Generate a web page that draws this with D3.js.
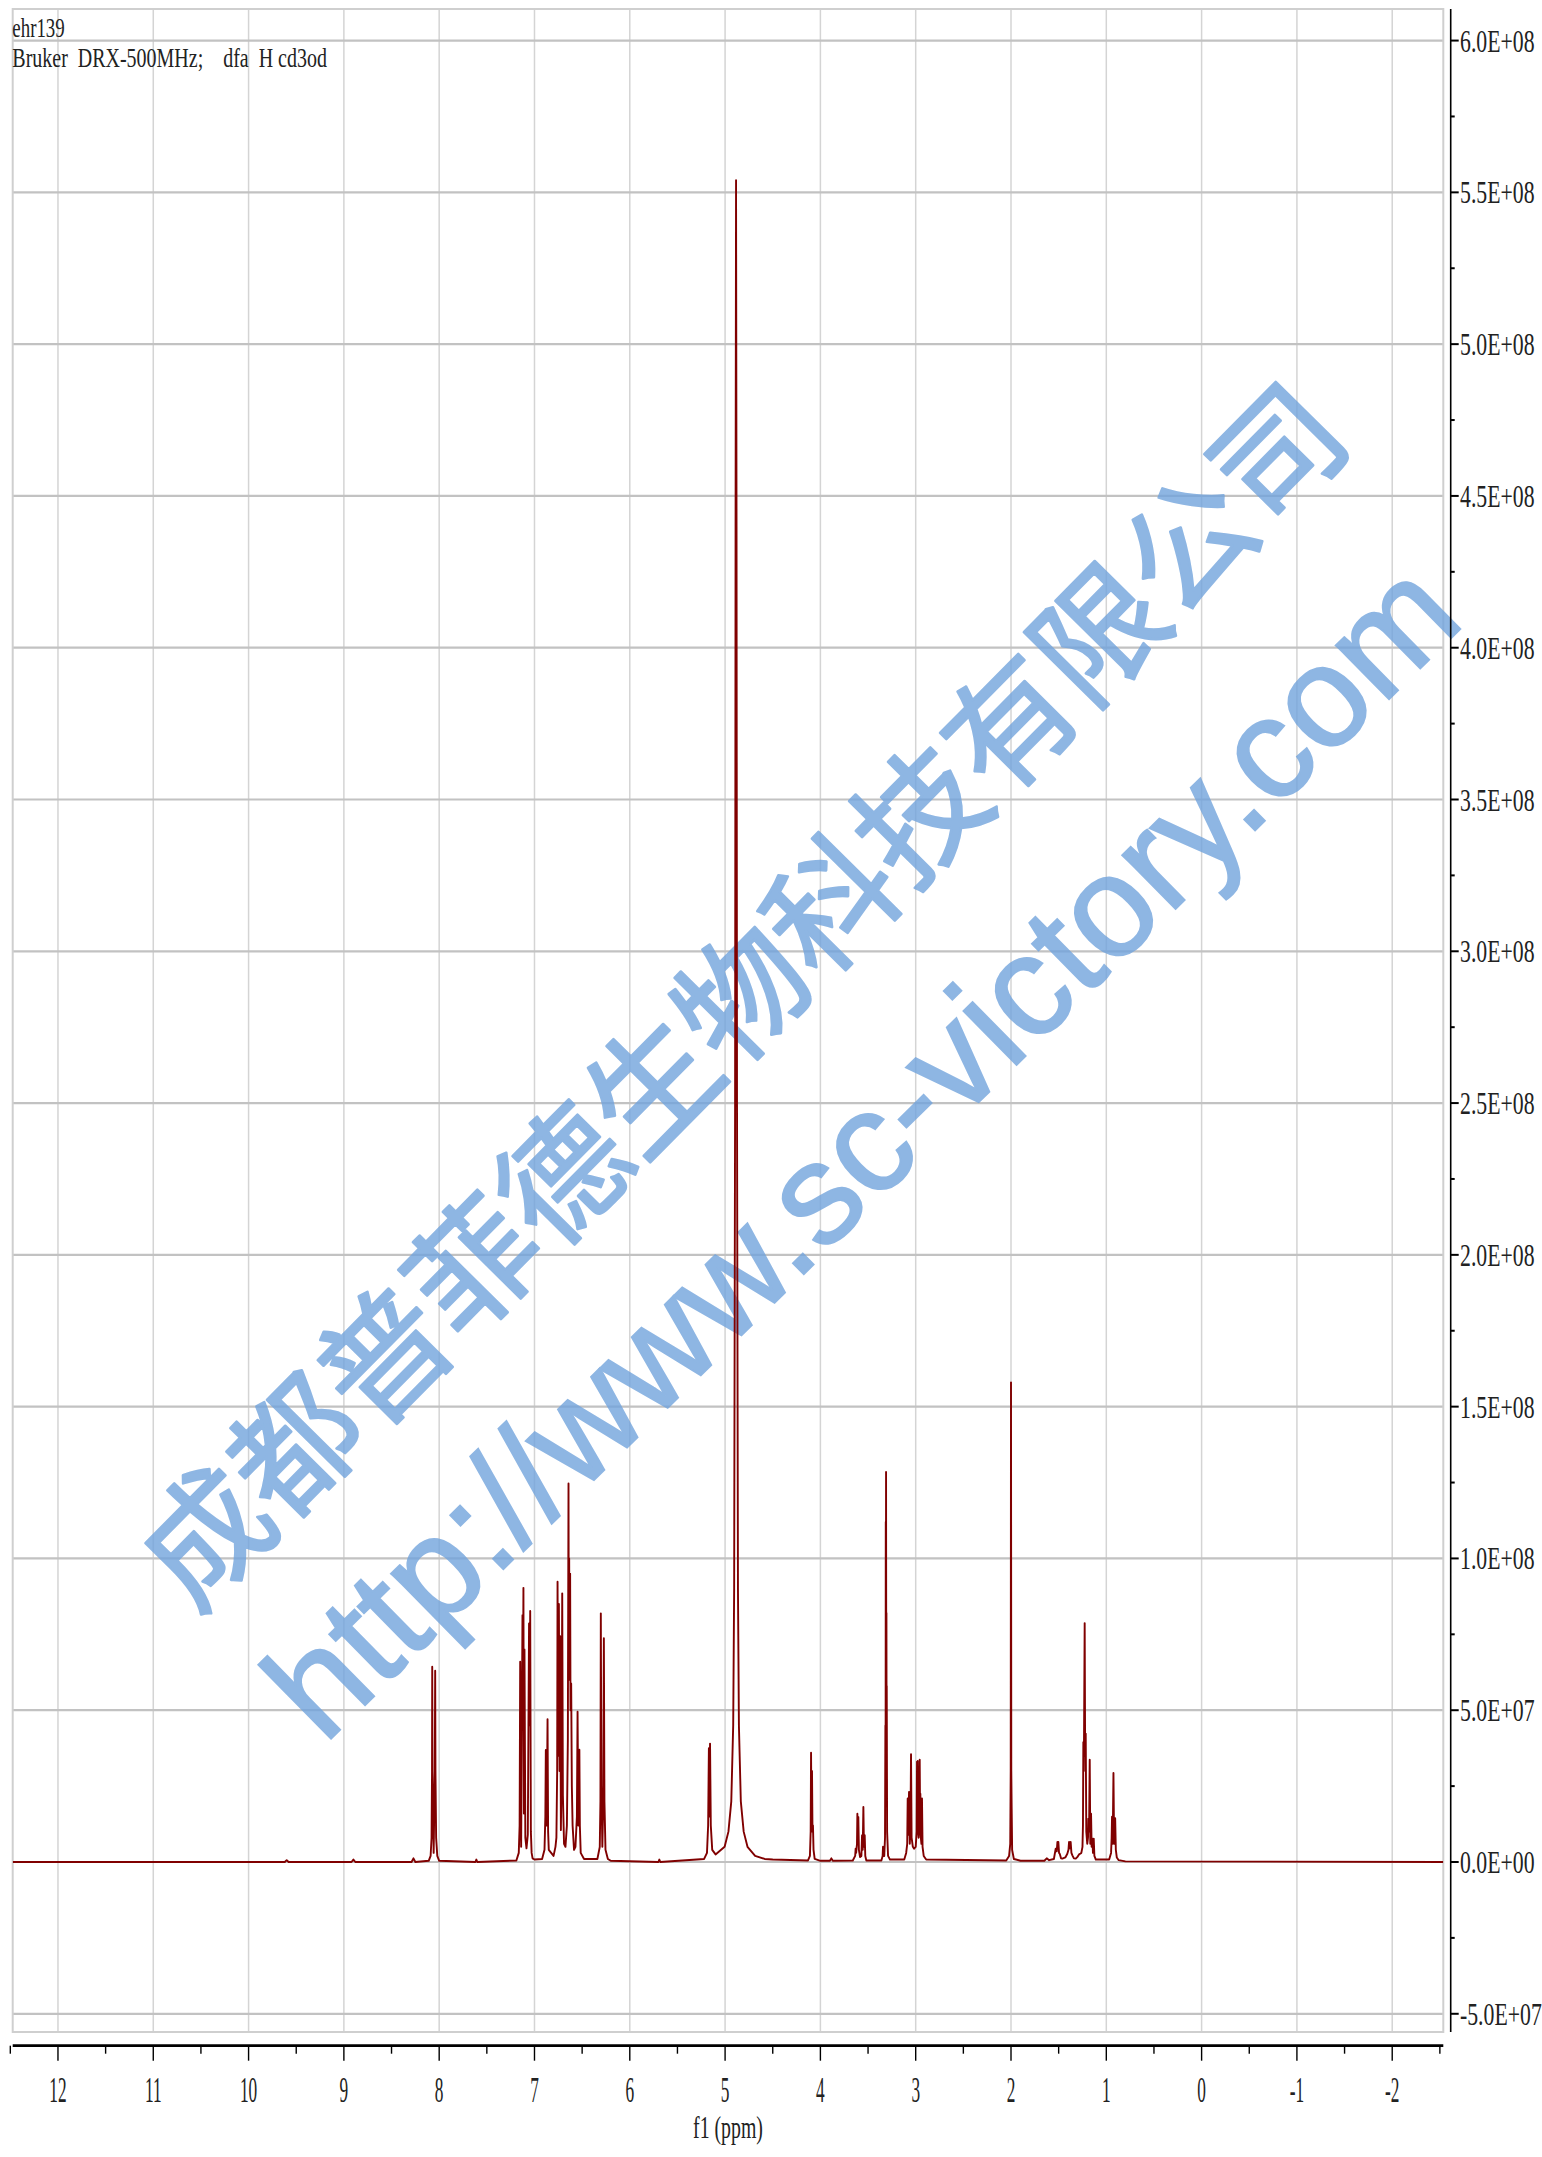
<!DOCTYPE html>
<html>
<head>
<meta charset="utf-8">
<script src="https://cdn.jsdelivr.net/npm/d3@7"></script>
<style>
  body { margin: 0; background: #fff; }
  text { font-family: "Liberation Serif", serif; fill: #222; }
</style>
</head>
<body>
<svg id="chart" width="1542" height="2157"></svg>
<script>
// axis ticks
const xTicks = [12, 11, 10, 9, 8, 7, 6, 5, 4, 3, 2, 1, 0, -1, -2];
const yTicks = [-0.5, 0, 0.5, 1, 1.5, 2, 2.5, 3, 3.5, 4, 4.5, 5, 5.5, 6]; // units of 1e8
const titleLines = ['ehr139', 'Bruker  DRX-500MHz;    dfa  H cd3od'];
const xLabel = 'f1 (ppm)';
const watermarkCn = '成都普菲德生物科技有限公司';
const watermarkUrl = 'http://www.sc-victory.com';

// spectrum trace, [ppm, intensity in 1e8]
const baseline = [
  [12.475, 0], [9.62, 0], [9.60, 0.006], [9.58, 0], [8.92, 0], [8.90, 0.008], [8.88, 0],
  [8.29, 0], [8.27, 0.012], [8.25, 0], [7.62, 0], [7.61, 0.008], [7.60, 0],
  [5.70, 0], [5.69, 0.008], [5.68, 0], [4.50, 0.008], [4.0, 0.004], [3.90, 0.004], [3.885, 0.012], [3.87, 0.004],
  [2.05, 0.005], [1.90, 0.004], [0.80, 0.002], [-2.536, 0]
];
const aromatic = [
  [8.11, 0.004], [8.09, 0.02], [8.080, 0.08], [8.075, 0.3], [8.073, 0.643], [8.070, 0.30], [8.058, 0.03],
  [8.046, 0.30], [8.042, 0.630], [8.039, 0.3], [8.032, 0.08], [8.02, 0.02], [8.0, 0.004],
  [7.19, 0.005], [7.165, 0.03], [7.156, 0.12], [7.150, 0.660], [7.140, 0.05], [7.126, 0.813], [7.121, 0.55],
  [7.116, 0.903], [7.111, 0.16], [7.105, 0.700], [7.096, 0.08], [7.084, 0.045], [7.07, 0.09], [7.057, 0.786],
  [7.051, 0.45], [7.045, 0.827], [7.038, 0.1], [7.03, 0.03], [7.02, 0.012], [7.0, 0.008],
  [6.92, 0.01], [6.895, 0.04], [6.886, 0.15], [6.881, 0.369], [6.872, 0.12], [6.863, 0.470], [6.857, 0.1],
  [6.85, 0.04], [6.80, 0.02], [6.78, 0.05], [6.770, 0.08], [6.762, 0.3], [6.758, 0.923], [6.751, 0.35],
  [6.744, 0.850], [6.737, 0.3], [6.730, 0.744], [6.723, 0.105], [6.716, 0.3], [6.709, 0.885], [6.702, 0.22],
  [6.690, 0.06], [6.675, 0.05], [6.660, 0.12], [6.650, 0.4], [6.643, 1.247], [6.640, 0.7], [6.636, 1.00],
  [6.632, 0.6], [6.626, 0.95], [6.622, 0.5], [6.615, 0.588], [6.608, 0.25], [6.600, 0.12], [6.585, 0.04],
  [6.570, 0.05], [6.555, 0.15], [6.548, 0.495], [6.540, 0.12], [6.529, 0.37], [6.524, 0.12], [6.515, 0.03],
  [6.48, 0.01], [6.34, 0.01], [6.315, 0.05], [6.308, 0.2], [6.304, 0.819], [6.298, 0.25], [6.288, 0.05],
  [6.278, 0.2], [6.272, 0.737], [6.266, 0.2], [6.255, 0.04], [6.23, 0.01], [6.20, 0.004]
];
const midfield = [
  [5.22, 0.01], [5.19, 0.03], [5.178, 0.12], [5.170, 0.375], [5.164, 0.15], [5.158, 0.39], [5.150, 0.12],
  [5.135, 0.04], [5.10, 0.025],
  [5.005, 0.05], [4.965, 0.1], [4.935, 0.2], [4.915, 0.45], [4.905, 0.9], [4.895, 2.5], [4.89, 4.4],
  [4.885, 5.54], [4.88, 4.4], [4.875, 2.5], [4.865, 0.9], [4.855, 0.45], [4.835, 0.2], [4.805, 0.1],
  [4.765, 0.05], [4.685, 0.02], [4.585, 0.01],
  [4.13, 0.005], [4.11, 0.02], [4.102, 0.1], [4.098, 0.36], [4.093, 0.12], [4.088, 0.30], [4.083, 0.1],
  [4.078, 0.12], [4.072, 0.04], [4.06, 0.01]
];
const aliphatic = [
  [3.66, 0.005], [3.635, 0.02], [3.630, 0.044], [3.625, 0.03], [3.616, 0.06], [3.612, 0.159], [3.607, 0.06],
  [3.602, 0.148], [3.596, 0.04], [3.584, 0.016], [3.570, 0.02], [3.563, 0.088], [3.556, 0.04], [3.549, 0.181],
  [3.543, 0.05], [3.535, 0.088], [3.529, 0.02], [3.518, 0.005],
  [3.36, 0.005], [3.347, 0.02], [3.343, 0.05], [3.338, 0.02], [3.33, 0.02], [3.322, 0.08], [3.318, 0.45],
  [3.316, 0.2], [3.314, 1.12], [3.3125, 0.6], [3.311, 1.285], [3.309, 0.6], [3.307, 0.82], [3.3055, 0.3],
  [3.304, 0.58], [3.300, 0.1], [3.29, 0.02], [3.27, 0.008],
  [3.12, 0.008], [3.10, 0.03], [3.089, 0.06], [3.084, 0.209], [3.078, 0.09], [3.070, 0.231], [3.062, 0.06],
  [3.055, 0.12], [3.049, 0.355], [3.043, 0.08], [3.03, 0.05], [3.017, 0.044], [3.00, 0.05], [2.990, 0.1],
  [2.986, 0.33], [2.982, 0.2], [2.979, 0.333], [2.974, 0.1], [2.969, 0.08], [2.963, 0.1], [2.958, 0.337],
  [2.954, 0.15], [2.951, 0.225], [2.946, 0.08], [2.940, 0.06], [2.934, 0.209], [2.928, 0.05], [2.916, 0.02],
  [2.89, 0.008],
  [2.02, 0.02], [2.008, 0.06], [2.003, 0.3], [2.0, 1.58], [1.997, 0.3], [1.993, 0.176], [1.988, 0.04], [1.97, 0.01],
  [1.65, 0.004], [1.625, 0.012], [1.60, 0.006],
  [1.55, 0.01], [1.531, 0.044], [1.52, 0.035], [1.513, 0.066], [1.508, 0.045], [1.503, 0.066], [1.496, 0.03],
  [1.489, 0.027], [1.475, 0.012], [1.461, 0.011], [1.43, 0.015], [1.409, 0.027], [1.397, 0.04], [1.391, 0.066],
  [1.383, 0.045], [1.374, 0.066], [1.366, 0.03], [1.356, 0.022], [1.34, 0.012], [1.321, 0.011], [1.30, 0.018],
  [1.286, 0.025], [1.27, 0.028], [1.262, 0.03], [1.25, 0.05],
  [1.245, 0.12], [1.241, 0.395], [1.236, 0.3], [1.233, 0.45], [1.227, 0.787], [1.222, 0.35], [1.216, 0.423],
  [1.210, 0.1], [1.200, 0.06], [1.192, 0.08], [1.188, 0.143], [1.181, 0.1], [1.174, 0.337], [1.168, 0.06],
  [1.160, 0.159], [1.154, 0.05], [1.146, 0.077], [1.140, 0.03], [1.132, 0.077], [1.125, 0.02], [1.11, 0.008],
  [0.97, 0.008], [0.95, 0.03], [0.944, 0.08], [0.940, 0.149], [0.933, 0.06], [0.925, 0.293], [0.918, 0.06],
  [0.907, 0.144], [0.900, 0.04], [0.89, 0.015], [0.87, 0.006]
];

const trace = [].concat(baseline, aromatic, midfield, aliphatic).sort((a, b) => b[0] - a[0]);

const svg = d3.select('#chart');
const plot = { left: 12.7, right: 1443.3, top: 9, bottom: 2032 };

const x = d3.scaleLinear().domain([12.475, -2.536]).range([plot.left, plot.right]);
const y = d3.scaleLinear().domain([-0.56, 6.104]).range([plot.bottom, plot.top]);

// label like 6.0E+08
function sci(v) {
  const value = v * 1e8;
  if (value === 0) return '0.0E+00';
  const e = Math.floor(Math.log10(Math.abs(value)));
  const m = value / Math.pow(10, e);
  return m.toFixed(1) + 'E+' + String(e).padStart(2, '0');
}

function squeezed(g, px, py, str, size, sx, anchor) {
  return g.append('text')
    .attr('transform', `translate(${px},${py}) scale(${sx},1)`)
    .attr('text-anchor', anchor)
    .attr('xml:space', 'preserve')
    .style('font-size', size + 'px')
    .text(str);
}

// grid
const grid = svg.append('g');
grid.selectAll('.vgrid').data(xTicks).join('line')
  .attr('x1', d => x(d)).attr('x2', d => x(d))
  .attr('y1', plot.top).attr('y2', plot.bottom)
  .attr('stroke', '#d4d4d4').attr('stroke-width', 1.5);
grid.selectAll('.hgrid').data(yTicks).join('line')
  .attr('x1', plot.left).attr('x2', plot.right)
  .attr('y1', d => y(d)).attr('y2', d => y(d))
  .attr('stroke', '#c2c2c2').attr('stroke-width', 2.2);
grid.append('rect')
  .attr('x', plot.left).attr('y', plot.top)
  .attr('width', plot.right - plot.left).attr('height', plot.bottom - plot.top)
  .attr('fill', 'none').attr('stroke', '#cfcfcf').attr('stroke-width', 2);

// watermark
const wmColor = 'rgb(114,164,221)';
const wm = svg.append('g').attr('opacity', 0.8);
wm.append('text')
  .attr('transform', 'translate(736,989) rotate(-45.3)')
  .attr('text-anchor', 'middle')
  .attr('dominant-baseline', 'central')
  .style('font-family', '"Noto Sans CJK SC", sans-serif')
  .style('font-size', '127px')
  .style('fill', wmColor)
  .style('stroke', wmColor)
  .style('stroke-width', 2.5)
  .style('stroke-linejoin', 'round')
  .text(watermarkCn);
wm.append('text')
  .attr('transform', 'translate(866,1154) rotate(-44.5)')
  .attr('y', 42)
  .attr('text-anchor', 'middle')
  .style('font-family', '"Liberation Sans", Arial, sans-serif')
  .style('font-size', '143px')
  .style('fill', wmColor)
  .style('stroke', wmColor)
  .style('stroke-width', 2)
  .text(watermarkUrl);

// spectrum
svg.append('clipPath').attr('id', 'clip').append('rect')
  .attr('x', plot.left).attr('y', plot.top)
  .attr('width', plot.right - plot.left).attr('height', plot.bottom - plot.top);

const line = d3.line().x(d => x(d[0])).y(d => y(d[1]));
svg.append('path')
  .datum(trace)
  .attr('clip-path', 'url(#clip)')
  .attr('d', line)
  .attr('fill', 'none')
  .attr('stroke', '#800000')
  .attr('stroke-width', 1.9)
  .attr('stroke-linejoin', 'round');

// x axis
const xAxisY = 2045.7;
const xa = svg.append('g');
xa.append('line')
  .attr('x1', plot.left).attr('x2', plot.right)
  .attr('y1', xAxisY).attr('y2', xAxisY)
  .attr('stroke', '#000').attr('stroke-width', 2.8);
const xMinor = d3.range(12.5, -2.6, -0.5).filter(v => !Number.isInteger(v));
xa.selectAll('.xmin').data(xMinor).join('line')
  .attr('x1', d => x(d)).attr('x2', d => x(d))
  .attr('y1', xAxisY).attr('y2', xAxisY + 8)
  .attr('stroke', '#000').attr('stroke-width', 1.4);
xa.selectAll('.xmaj').data(xTicks).join('line')
  .attr('x1', d => x(d)).attr('x2', d => x(d))
  .attr('y1', xAxisY).attr('y2', xAxisY + 15)
  .attr('stroke', '#000').attr('stroke-width', 1.4);
xTicks.forEach(t => squeezed(xa, x(t), 2102, String(t), 36, 0.48, 'middle'));
squeezed(xa, (plot.left + plot.right) / 2, 2138, xLabel, 32, 0.62, 'middle');

// y axis on the right
const yAxisX = 1450.7;
const ya = svg.append('g');
ya.append('line')
  .attr('x1', yAxisX).attr('x2', yAxisX)
  .attr('y1', plot.top).attr('y2', plot.bottom)
  .attr('stroke', '#000').attr('stroke-width', 1.6);
const yMinor = yTicks.slice(0, -1).map(v => v + 0.25);
ya.selectAll('.ymin').data(yMinor).join('line')
  .attr('x1', yAxisX).attr('x2', yAxisX + 4)
  .attr('y1', d => y(d)).attr('y2', d => y(d))
  .attr('stroke', '#000').attr('stroke-width', 2);
ya.selectAll('.ymaj').data(yTicks).join('line')
  .attr('x1', yAxisX).attr('x2', yAxisX + 8)
  .attr('y1', d => y(d)).attr('y2', d => y(d))
  .attr('stroke', '#000').attr('stroke-width', 2);
yTicks.forEach(t => squeezed(ya, 1460, y(t) + 11, sci(t), 32, 0.68, 'start'));

// header text
const hd = svg.append('g');
squeezed(hd, 12.3, 37, titleLines[0], 27, 0.7, 'start');
squeezed(hd, 12.3, 67, titleLines[1], 27, 0.74, 'start');
</script>
</body>
</html>
